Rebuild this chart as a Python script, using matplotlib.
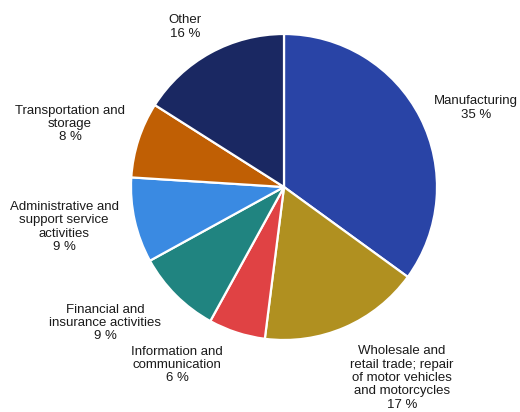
import matplotlib
matplotlib.use("Agg")
import matplotlib.pyplot as plt

categories = ["Manufacturing", "Wholesale and\nretail trade; repair\nof motor vehicles\nand motorcycles",
              "Information and\ncommunication", "Financial and\ninsurance activities",
              "Administrative and\nsupport service\nactivities", "Transportation and\nstorage", "Other"]
values = [35, 17, 6, 9, 9, 8, 16]
colors = ["#2944A6", "#B09020", "#E04244", "#208480", "#3A8AE2", "#C05F04", "#1A2862"]
# label anchor positions in pixel coordinates (x, y from top)
label_pos = [(476, 108), (402, 378), (177, 365), (105, 323), (64, 227), (70, 124), (185, 27)]

W, H = 520, 412
fig = plt.figure(figsize=(W / 100, H / 100), dpi=100)
ax = fig.add_axes([0, 0, 1, 1])

cx, cy, r = 284, H - 187, 153
ax.pie(values, colors=colors, startangle=90, counterclock=False, center=(cx, cy), radius=r,
       wedgeprops=dict(edgecolor="white", linewidth=1.6), frame=True)
ax.set_xlim(0, W)
ax.set_ylim(0, H)
ax.set_aspect("equal")
ax.axis("off")

for cat, v, (px, py) in zip(categories, values, label_pos):
    ax.text(px, H - py, f"{cat}\n{v} %", ha="center", va="center", fontsize=9.5,
            family="Liberation Sans", color="#1a1a1a", linespacing=1.15)

fig.savefig("out.png", dpi=100)
